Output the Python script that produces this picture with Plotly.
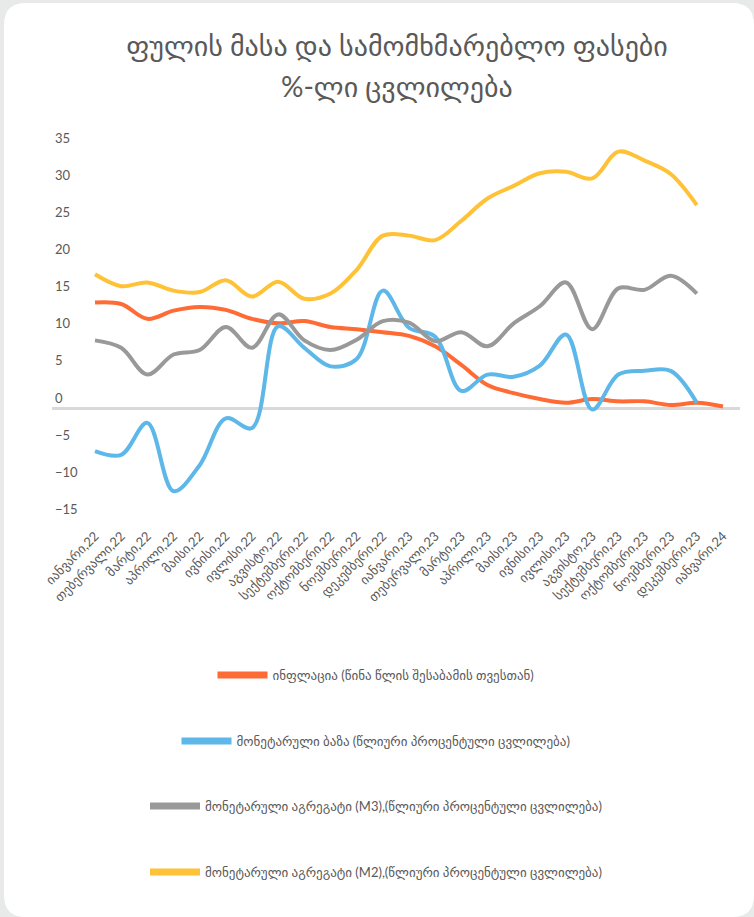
import plotly.graph_objects as go

# თვეები (x ღერძი)
months = ["იანვარი,22", "თებერვალი,22", "მარტი,22", "აპრილი,22", "მაისი,22", "ივნისი,22",
          "ივლისი,22", "აგვისტო,22", "სექტემბერი,22", "ოქტომბერი,22", "ნოემბერი,22", "დეკემბერი,22",
          "იანვარი,23", "თებერვალი,23", "მარტი,23", "აპრილი,23", "მაისი,23", "ივნისი,23",
          "ივლისი,23", "აგვისტო,23", "სექტემბერი,23", "ოქტომბერი,23", "ნოემბერი,23", "დეკემბერი,23",
          "იანვარი,24"]

inflation = [14.2, 14.0, 12.0, 13.1, 13.6, 13.2, 12.0, 11.4, 11.7, 10.9, 10.6, 10.2,
             9.7, 8.3, 5.8, 3.1, 2.0, 1.2, 0.7, 1.2, 0.9, 0.9, 0.4, 0.7, 0.2]
monetary_base = [-5.8, -6.3, -2.0, -11.2, -7.7, -1.4, -2.7, 11.0, 8.1, 5.6, 6.6, 15.8,
                 10.8, 9.6, 2.3, 4.5, 4.2, 5.7, 9.9, -0.2, 4.5, 5.0, 5.0, 0.7, None]
m3 = [9.1, 8.1, 4.5, 7.2, 7.8, 10.9, 8.1, 12.6, 9.1, 7.8, 9.2, 11.7,
      11.5, 9.0, 10.2, 8.3, 11.4, 13.7, 16.9, 10.6, 16.1, 15.9, 17.8, 15.4, None]
m2 = [18.0, 16.4, 16.9, 15.8, 15.6, 17.2, 15.0, 17.0, 14.7, 15.4, 18.6, 23.2,
      23.2, 22.6, 25.2, 28.2, 29.9, 31.6, 31.8, 30.9, 34.5, 33.3, 31.5, 27.3, None]

names = ["ინფლაცია (წინა წლის შესაბამის თვესთან)",
         "მონეტარული ბაზა (წლიური პროცენტული ცვლილება)",
         "მონეტარული აგრეგატი (M3),(წლიური პროცენტული ცვლილება)",
         "მონეტარული აგრეგატი (M2),(წლიური პროცენტული ცვლილება)"]
colors = ["#FF6B35", "#5DB7E8", "#999999", "#FFC236"]
series = [inflation, monetary_base, m3, m2]

W, H = 754, 917
L, R, T, B = 52, 14, 110, 392
PW, PH = W - L - R, H - T - B
FONT = "Lato, DejaVu Sans, sans-serif"
GREY = "#595959"


def px2paper(x, y):
    return (x - L) / PW, (H - B - y) / PH


fig = go.Figure()
leg_ids = ["legend", "legend2", "legend3", "legend4"]
for s, n, c in zip(series, names, colors):
    fig.add_trace(go.Scatter(x=months, y=s, name=n, mode="lines", showlegend=False,
                             line=dict(color=c, width=4, shape="spline", smoothing=1),
                             connectgaps=False))
# legend entries drawn with a thicker sample line
for n, c, lg in zip(names, colors, leg_ids):
    fig.add_trace(go.Scatter(x=[None], y=[None], name=n, mode="lines",
                             line=dict(color=c, width=7), legend=lg))

# white card with rounded corners
x0, y0, x1, y1, r = 4, 3, 754, 917, 22
path = "M {},{} L {},{} Q {},{} {},{} L {},{} Q {},{} {},{} L {},{} Q {},{} {},{} L {},{} Q {},{} {},{} Z".format(
    *px2paper(x0 + r, y0), *px2paper(x1 - r, y0), *px2paper(x1, y0), *px2paper(x1, y0 + r),
    *px2paper(x1, y1 - r), *px2paper(x1, y1), *px2paper(x1 - r, y1),
    *px2paper(x0 + r, y1), *px2paper(x0, y1), *px2paper(x0, y1 - r),
    *px2paper(x0, y0 + r), *px2paper(x0, y0), *px2paper(x0 + r, y0))
fig.add_shape(type="path", path=path, xref="paper", yref="paper",
              fillcolor="white", line=dict(width=0), layer="below")

legend_y = [675, 741, 806, 872]
layout_legends = {}
for lg, ly in zip(leg_ids, legend_y):
    layout_legends[lg] = dict(x=376 / W, y=1 - ly / H, xref="container", yref="container",
                              xanchor="center", yanchor="middle", orientation="h",
                              font=dict(family=FONT, size=13, color=GREY),
                              bgcolor="rgba(0,0,0,0)", itemwidth=50)

fig.update_layout(
    width=W, height=H,
    margin=dict(l=L, r=R, t=T, b=B, autoexpand=False),
    paper_bgcolor="#E8E9E9",
    plot_bgcolor="rgba(0,0,0,0)",
    title=dict(text="ფულის მასა და სამომხმარებლო ფასები",
               x=397 / W, xanchor="center", y=1 - 46 / H, yanchor="middle",
               font=dict(family=FONT, size=28, color=GREY)),
    showlegend=True,
    **layout_legends,
)
ax, ay = px2paper(397, 86)
fig.add_annotation(text="%-ლი ცვლილება", x=ax, y=ay,
                   xref="paper", yref="paper", showarrow=False,
                   xanchor="center", yanchor="middle",
                   font=dict(family=FONT, size=28, color=GREY))

fig.update_xaxes(type="category", range=[-(95 - L) / 26.17, 24 + (W - R - 723) / 26.17],
                 showgrid=False, showline=False, zeroline=False, tickangle=-45,
                 automargin=False,
                 tickfont=dict(family=FONT, size=13, color=GREY), ticks="")
fig.update_yaxes(range=[-(H - B - 408) / 7.43, (408 - T) / 7.43],
                 tickvals=[-15, -10, -5, 0, 5, 10, 15, 20, 25, 30, 35],
                 showgrid=False, showline=False, automargin=False,
                 zeroline=True, zerolinecolor="#D9D9D9", zerolinewidth=3,
                 ticklabelposition="inside", ticklabelshift=-10, ticklabelstandoff=0,
                 tickfont=dict(family=FONT, size=13, color=GREY), ticks="")

fig.write_html("out.html", config={"displayModeBar": False},
               post_script="document.body.style.margin='0';")
